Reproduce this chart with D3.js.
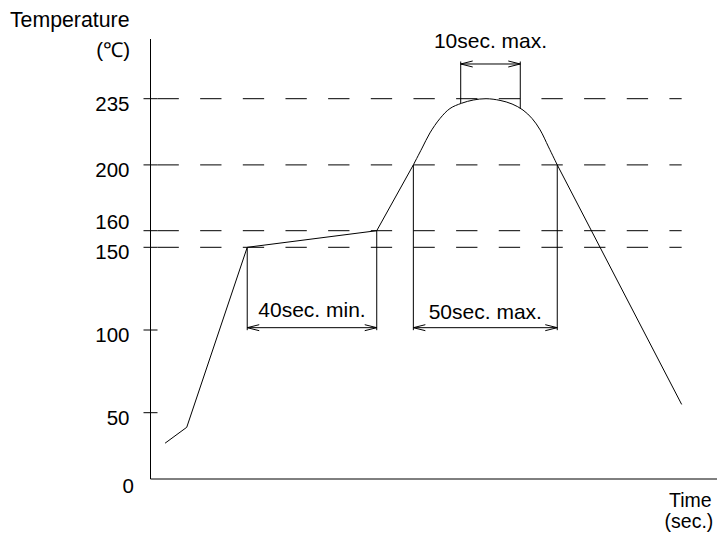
<!DOCTYPE html>
<html><head><meta charset="utf-8">
<script src="https://cdn.jsdelivr.net/npm/d3@7"></script>
<style>
body{margin:0;background:#fff}
svg{display:block}
text{font-family:"Liberation Sans",Arial,Helvetica,sans-serif;font-size:20.5px;fill:#000}
</style>
</head><body>
<svg id="chart" width="717" height="546"></svg>
<script>
// ---- data ----
const tempTicks = [0, 50, 100, 150, 160, 200, 235];
const dashedTemps = [150, 160, 200, 235];

const heatTime = [8.0, 19.9, 53.1, 124.2, 144.3];
const heatTemp = [27, 39, 150, 160, 200];

const peakTime = [144.3, 149.1, 153.4, 158.9, 164.4, 170.8, 177.2, 184.2, 191.9, 198.5, 204.5, 209.5, 213.9, 218.5, 223.3];
const peakTemp = [200, 208.9, 216.9, 224.5, 229.8, 232.6, 234.3, 235, 234.1, 232.2, 229.0, 224.5, 218.5, 209.5, 200];

const coolTime = [223.3, 291.6];
const coolTemp = [200, 55];

const spanLabels = ["40sec. min.", "50sec. max.", "10sec. max."];
const spanStartTime = [53.1, 144.3, 170.3];
const spanEndTime = [124.2, 223.3, 203.0];
const spanStartTemp = [150, 200, 232.7];
const spanEndTemp = [160, 200, 229.8];
const spanArrowTemp = [101.4, 101.4, 253.6];

const yTitle = ["Temperature", "(\u2103)"];
const xTitle = ["Time", "(sec.)"];

// ---- drawing ----
const svg = d3.select("#chart");
const x = d3.scaleLinear().domain([0, 311]).range([150.5, 717]);
const y = d3.scaleLinear()
  .domain([0, 50, 150, 160, 200, 235, 267])
  .range([479, 412.7, 247.3, 230.7, 164.9, 98.7, 39]);

// dashed guide lines
const guideEnd = x(coolTime[coolTime.length - 1]);
svg.append("g").selectAll("line").data(dashedTemps).join("line")
  .attr("x1", x(0) + 7).attr("x2", guideEnd)
  .attr("y1", d => y(d)).attr("y2", d => y(d))
  .attr("stroke", "#000").attr("stroke-width", 1)
  .attr("stroke-dasharray", "21.33,21.33");

// y axis
const yAxis = d3.axisLeft(y).tickValues(tempTicks).tickSize(7).tickSizeOuter(0)
  .tickPadding(14).offset(0).tickFormat(d3.format("d"));
const gy = svg.append("g").attr("transform", `translate(${x(0)},0)`).call(yAxis);
gy.attr("font-size", null).attr("font-family", null);
gy.select(".domain").attr("stroke", "#000");
gy.selectAll(".tick line").attr("x1", 7).attr("x2", -7).attr("stroke", "#000")
  .filter(d => d === 0).remove();
gy.selectAll(".tick text")
  .attr("dy", null)
  .attr("y", d => {
    if (d === 0) return 14.3;
    const lower = tempTicks.filter(t => t < d);
    const below = lower.length ? lower[lower.length - 1] : null;
    if (below !== null && y(below) - y(d) < 20) return -1.4; // crowded: label above
    return 12;
  })
  .attr("x", d => d === 0 ? -16.5 : -21);

// x axis
const xAxis = d3.axisBottom(x).tickValues([]).tickSizeOuter(0).offset(0);
const gx = svg.append("g").attr("transform", `translate(0,${y(0)})`).call(xAxis);
gx.select(".domain").attr("stroke", "#000");

// profile
const lineLin = d3.line().x(d => x(d[0])).y(d => y(d[1]));
const lineCurve = d3.line().x(d => x(d[0])).y(d => y(d[1])).curve(d3.curveCatmullRom.alpha(0.5));
const g = svg.append("g").attr("fill", "none").attr("stroke", "#000").attr("stroke-width", 1);
g.append("path").attr("d", lineLin(heatTime.map((t, i) => [t, heatTemp[i]])));
g.append("path").attr("d", lineCurve(peakTime.map((t, i) => [t, peakTemp[i]])));
g.append("path").attr("d", lineLin(coolTime.map((t, i) => [t, coolTemp[i]])));

// dimension annotations
const ann = svg.append("g");
spanLabels.forEach((lab, i) => {
  const xa = x(spanStartTime[i]), xb = x(spanEndTime[i]);
  const ay = y(spanArrowTemp[i]);
  [[xa, y(spanStartTemp[i])], [xb, y(spanEndTemp[i])]].forEach(([xx, cy]) => {
    const dir = Math.sign(ay - cy);
    ann.append("line").attr("x1", xx).attr("x2", xx).attr("y1", cy).attr("y2", ay + dir * 2.5)
      .attr("stroke", "#000").attr("stroke-width", 1);
  });
  ann.append("line").attr("x1", xa).attr("x2", xb).attr("y1", ay).attr("y2", ay)
    .attr("stroke", "#000").attr("stroke-width", 1);
  ann.append("path").attr("fill", "none").attr("stroke", "#000").attr("stroke-width", 1)
    .attr("d", `M${xa + 12},${ay - 3}L${xa},${ay}L${xa + 12},${ay + 3}M${xb - 12},${ay - 3}L${xb},${ay}L${xb - 12},${ay + 3}`);
  ann.append("text").attr("text-anchor", "middle")
    .style("font-size", "21px")
    .attr("x", (xa + xb) / 2)
    .attr("y", ay - (i === 2 ? 15.5 : (i === 1 ? 9 : 11)))
    .text(lab);
});

// axis titles
svg.append("text").attr("text-anchor", "end").style("font-size", "21.3px")
  .attr("x", 129.5).attr("y", 26.7).text(yTitle[0]);
svg.append("text").attr("text-anchor", "end").attr("x", 130).attr("y", 57.3).text(yTitle[1]);
svg.append("text").attr("text-anchor", "end").style("font-size", "19.5px")
  .attr("x", 711.7).attr("y", 506.7).text(xTitle[0]);
svg.append("text").attr("text-anchor", "end").style("font-size", "19.5px")
  .attr("x", 713.3).attr("y", 528.3).text(xTitle[1]);
</script>
</body></html>
